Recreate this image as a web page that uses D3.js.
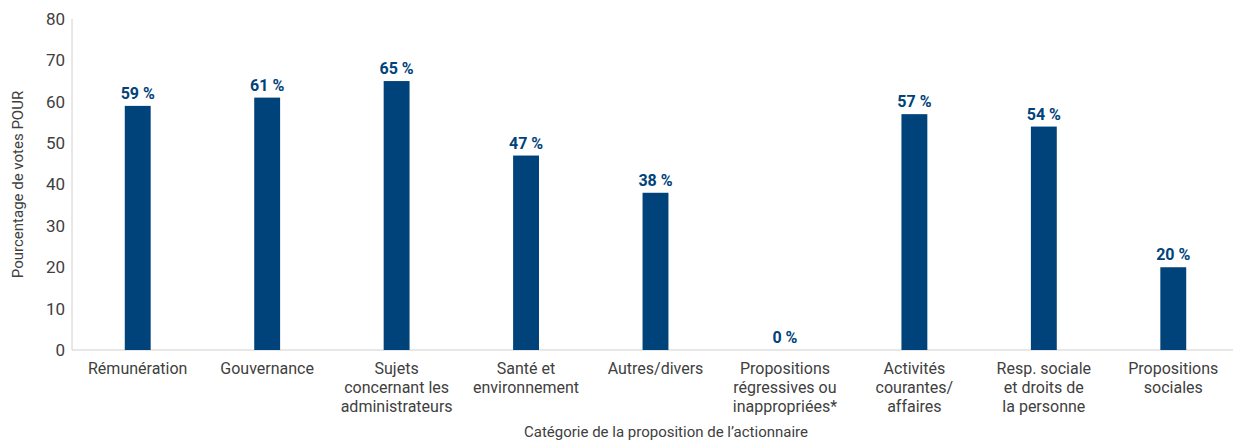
<!DOCTYPE html>
<html>
<head>
<meta charset="utf-8">
<script src="https://cdn.jsdelivr.net/npm/d3@7"></script>
<style>
  body { margin: 0; background: #fff; }
  text { font-family: "Liberation Sans Narrow", "Roboto", sans-serif; }
</style>
</head>
<body>
<div id="chart"></div>
<script>
const categories = [
    ["Rémunération"],
    ["Gouvernance"],
    ["Sujets", "concernant les", "administrateurs"],
    ["Santé et", "environnement"],
    ["Autres/divers"],
    ["Propositions", "régressives ou", "inappropriées*"],
    ["Activités", "courantes/", "affaires"],
    ["Resp. sociale", "et droits de", "la personne"],
    ["Propositions", "sociales"]
];
const values = [59, 61, 65, 47, 38, 0, 57, 54, 20];
const yTicks = [0, 10, 20, 30, 40, 50, 60, 70, 80];

const width = 1233, height = 441;
const margin = { top: 19, right: -5, bottom: 91, left: 73 };
const barColor = "#00427a";
const textColor = "#404040";

const svg = d3.select("#chart")
    .append("svg")
    .attr("width", width)
    .attr("height", height);

const x = d3.scaleBand()
    .domain(d3.range(categories.length))
    .range([margin.left, width - margin.right])
    .paddingInner(0.8)
    .paddingOuter(0.4);

const y = d3.scaleLinear()
    .domain([0, 80])
    .range([height - margin.bottom, margin.top]);

// Axes lines
svg.append("line")
    .attr("x1", margin.left - 1).attr("x2", margin.left - 1)
    .attr("y1", y(80)).attr("y2", y(0))
    .attr("stroke", "#d0d0d0");
svg.append("line")
    .attr("x1", margin.left - 1).attr("x2", width)
    .attr("y1", y(0)).attr("y2", y(0))
    .attr("stroke", "#d0d0d0");

// Y tick labels
svg.selectAll(".ytick")
    .data(yTicks)
    .enter()
    .append("text")
    .attr("x", margin.left - 8)
    .attr("y", d => y(d))
    .attr("dy", "0.35em")
    .attr("text-anchor", "end")
    .style("fill", textColor)
    .style("font-size", "17px")
    .text(d => d);

// Bars
svg.selectAll(".bar")
    .data(values)
    .enter()
    .append("rect")
    .attr("x", (d, i) => x(i))
    .attr("width", x.bandwidth())
    .attr("y", d => y(d))
    .attr("height", d => y(0) - y(d))
    .attr("fill", barColor);

// Value labels
svg.selectAll(".val")
    .data(values)
    .enter()
    .append("text")
    .attr("x", (d, i) => x(i) + x.bandwidth() / 2)
    .attr("y", d => y(d) - 7)
    .attr("text-anchor", "middle")
    .style("fill", barColor)
    .style("font-weight", "bold")
    .style("font-size", "16px")
    .text(d => `${d} %`);

// Category labels
const cat = svg.selectAll(".cat")
    .data(categories)
    .enter()
    .append("text")
    .attr("text-anchor", "middle")
    .style("fill", textColor)
    .style("font-size", "16px");

cat.selectAll("tspan")
    .data((d, i) => d.map(line => ({ line, i })))
    .enter()
    .append("tspan")
    .attr("x", d => x(d.i) + x.bandwidth() / 2)
    .attr("y", (d, j) => y(0) + 24 + j * 19)
    .text(d => d.line);

// Axis titles
svg.append("text")
    .attr("x", 666)
    .attr("y", 437)
    .attr("text-anchor", "middle")
    .style("fill", textColor)
    .style("font-size", "15px")
    .text("Catégorie de la proposition de l’actionnaire");

svg.append("text")
    .attr("transform", `translate(23, ${(y(0) + y(80)) / 2}) rotate(-90)`)
    .attr("text-anchor", "middle")
    .style("fill", textColor)
    .style("font-size", "15px")
    .text("Pourcentage de votes POUR");
</script>
</body>
</html>
